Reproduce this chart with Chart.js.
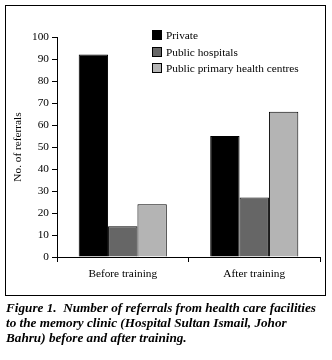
<!DOCTYPE html>
<html>
<head>
<meta charset="utf-8">
<script src="https://cdn.jsdelivr.net/npm/chart.js@4/dist/chart.umd.min.js"></script>
<style>
  html, body { margin: 0; padding: 0; background: #fff; }
  body { width: 332px; height: 360px; position: relative; overflow: hidden; font-family: "Liberation Serif", "DejaVu Serif", serif; }
  #wrap { position: absolute; left: 0; top: 0; width: 332px; height: 300px; }
  #box { position: absolute; left: 5px; top: 5px; width: 319px; height: 289px; border: 1.5px solid #000; pointer-events: none; }
  #legend { position: absolute; left: 152px; top: 27px; font-size: 11.3px; color: #000; }
  .li { display: flex; align-items: center; height: 16.5px; }
  .sw { width: 8px; height: 8px; border: 1px solid #000; margin-right: 4px; }
  #caption { position: absolute; left: 6px; top: 300px; width: 326px; font-size: 13.2px; font-weight: bold; font-style: italic; line-height: 15px; color: #000; white-space: nowrap; }
</style>
</head>
<body>
<div id="wrap"><canvas id="c" width="332" height="300"></canvas></div>
<div id="box"></div>
<div id="legend"></div>
<div id="caption">Figure 1.&nbsp; Number of referrals from health care facilities<br>to the memory clinic (Hospital Sultan Ismail, Johor<br>Bahru) before and after training.</div>
<script>
const categories = ["Before training", "After training"];
const seriesNames = ["Private", "Public hospitals", "Public primary health centres"];
const privateValues = [92, 55];
const publicHospitalValues = [14, 27];
const primaryCentreValues = [24, 66];
const yTicks = [0, 10, 20, 30, 40, 50, 60, 70, 80, 90, 100];
const yAxisTitle = "No. of referrals";

const colors = ["#000000", "#666666", "#b4b4b4"];
const seriesValues = [privateValues, publicHospitalValues, primaryCentreValues];

const legend = document.getElementById('legend');
seriesNames.forEach((n, i) => {
  const row = document.createElement('div'); row.className = 'li';
  const sw = document.createElement('div'); sw.className = 'sw'; sw.style.background = colors[i];
  const t = document.createElement('span'); t.textContent = n;
  row.appendChild(sw); row.appendChild(t); legend.appendChild(row);
});

const serif = "'Liberation Serif', 'DejaVu Serif', serif";
new Chart(document.getElementById('c'), {
  type: 'bar',
  data: {
    labels: categories,
    datasets: seriesNames.map((n, i) => ({
      label: n, data: seriesValues[i], backgroundColor: colors[i],
      borderColor: '#000', borderWidth: 1,
      categoryPercentage: 0.67, barPercentage: 1.0
    }))
  },
  options: {
    responsive: false, animation: false,
    layout: { padding: { top: 37, right: 12, bottom: 13, left: 0 } },
    plugins: { legend: { display: false }, tooltip: { enabled: false } },
    scales: {
      x: {
        offset: true,
        grid: { display: true, drawOnChartArea: false, offset: true, color: '#000', tickLength: 5, lineWidth: 1 },
        border: { display: true, color: '#000', width: 1 },
        ticks: { color: '#000', font: { family: serif, size: 11.3 }, padding: 5, maxRotation: 0 },
        afterFit: s => { s.height = 30; }
      },
      y: {
        min: 0, max: 100,
        afterBuildTicks: s => { s.ticks = yTicks.map(v => ({ value: v })); },
        grid: { display: true, drawOnChartArea: false, color: '#000', tickLength: 5, lineWidth: 1 },
        border: { display: true, color: '#000', width: 1 },
        ticks: { color: '#000', font: { family: serif, size: 11.3 }, padding: 3 },
        title: { display: true, text: yAxisTitle, color: '#000', font: { family: serif, size: 11.3 }, padding: { top: 11, bottom: 0 } },
        afterFit: s => { s.width = 57; }
      }
    }
  }
});
</script>
</body>
</html>
